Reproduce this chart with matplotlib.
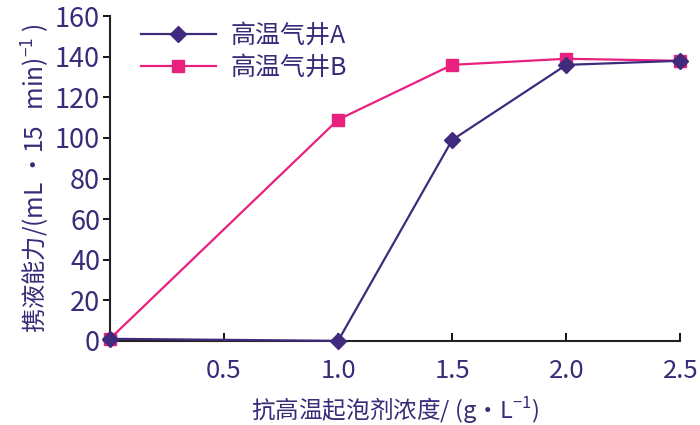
import matplotlib
matplotlib.use("Agg")
import matplotlib.pyplot as plt

plt.rcParams['font.family'] = ['Noto Sans CJK SC', 'DejaVu Sans']
plt.rcParams['mathtext.fontset'] = 'custom'
plt.rcParams['mathtext.rm'] = 'Noto Sans CJK SC'

conc = [0.0, 1.0, 1.5, 2.0, 2.5]
well_a = [1, 0, 99, 136, 138]
well_b = [1, 109, 136, 139, 138]
names = ['高温气井A', '高温气井B']
xticks = [0.5, 1.0, 1.5, 2.0, 2.5]
xticklabels = ['0.5', '1.0', '1.5', '2.0', '2.5']
yticks = [0, 20, 40, 60, 80, 100, 120, 140, 160]

txt = '#3a2a78'
ca = '#3f2a7e'
cb = '#e8207e'

fig = plt.figure(figsize=(7, 4.25), dpi=100)
ax = fig.add_axes([0.157, 0.198, 0.815, 0.764])

ax.plot(conc, well_b, color=cb, lw=1.6, marker='s', ms=8, clip_on=False, label=names[1], zorder=3)
ax.plot(conc, well_a, color=ca, lw=1.6, marker='D', ms=8, clip_on=False, label=names[0], zorder=4)

ax.set_xlim(0, 2.5)
ax.set_ylim(0, 160)
ax.set_xticks(xticks)
ax.set_xticklabels(xticklabels)
ax.set_yticks(yticks)
for s in ['top', 'right']:
    ax.spines[s].set_visible(False)
for s in ['left', 'bottom']:
    ax.spines[s].set_linewidth(1.5)
    ax.spines[s].set_color('#222222')
ax.tick_params(axis='x', direction='in', length=6, width=1.3, labelsize=18.5, labelcolor=txt, pad=12)
ax.tick_params(axis='y', direction='out', length=5, width=1.3, labelsize=19.5, labelcolor=txt, pad=2)

ax.set_xlabel('抗高温起泡剂浓度/ (g·L$^{-1}$)', fontsize=17, color=txt, labelpad=8)
ax.set_ylabel('携液能力/(mL ·15   min)$^{-1}$ )', fontsize=17.5, color=txt, labelpad=2)

h, l = ax.get_legend_handles_labels()
leg = ax.legend([h[1], h[0]], [l[1], l[0]], loc='upper left', bbox_to_anchor=(0.015, 1.05),
                frameon=False, fontsize=18, handlelength=3.0, labelspacing=0.25, handletextpad=0.6)
for t in leg.get_texts():
    t.set_color(txt)

fig.savefig('out.png', dpi=100)
